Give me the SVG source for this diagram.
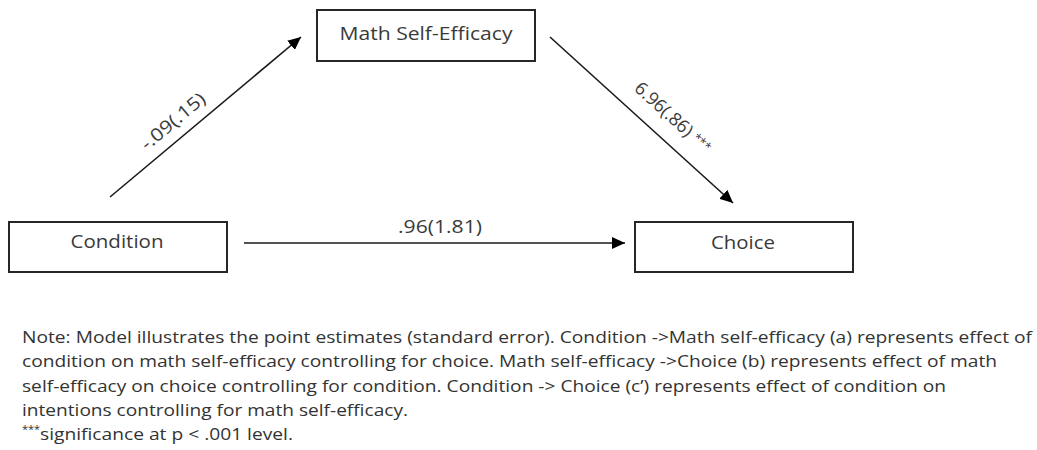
<svg xmlns="http://www.w3.org/2000/svg" width="1037" height="450" viewBox="0 0 1037 450">
<style>
.box{fill:#fff;stroke:#262626;stroke-width:2}
.lbl{font-family:"Open Sans","Noto Sans","Liberation Sans",sans-serif;font-size:18px;fill:#3a3a3a}
.edge{font-family:"Open Sans","Noto Sans","Liberation Sans",sans-serif;font-size:18px;fill:#3a3a3a}
.note{font-family:"Open Sans","Noto Sans","Liberation Sans",sans-serif;font-size:17px;fill:#333}
.conn{stroke:#1a1a1a;stroke-width:1.6;fill:none}
</style>
<defs>
<marker id="arr" markerUnits="userSpaceOnUse" markerWidth="14" markerHeight="12" refX="13" refY="6" orient="auto">
<path d="M0,0 L13,6 L0,12 Z" fill="#000"/>
</marker>
</defs>
<rect width="1037" height="450" fill="#fff"/>
<g id="connectors">
<line class="conn" x1="110" y1="197" x2="301" y2="37" marker-end="url(#arr)"/>
<line class="conn" x1="550" y1="37" x2="733" y2="203" marker-end="url(#arr)"/>
<line class="conn" x1="244" y1="243" x2="625" y2="243" marker-end="url(#arr)"/>
<text class="edge" x="177" y="126" text-anchor="middle" textLength="78" lengthAdjust="spacingAndGlyphs" transform="rotate(-40 177 126)">-.09(.15)</text>
<text class="edge" x="669" y="122" text-anchor="middle" transform="rotate(42 669 122)">6.96(.86) <tspan font-size="12" dy="-3">***</tspan></text>
<text class="edge" x="440" y="233" text-anchor="middle" textLength="84" lengthAdjust="spacingAndGlyphs">.96(1.81)</text>
</g>
<g id="node-mse">
<rect class="box" x="317" y="10" width="218" height="51"/>
<text class="lbl" x="426" y="40" text-anchor="middle" textLength="173" lengthAdjust="spacingAndGlyphs">Math Self-Efficacy</text>
</g>
<g id="node-condition">
<rect class="box" x="9" y="222" width="218" height="50"/>
<text class="lbl" x="117" y="248" text-anchor="middle" textLength="93" lengthAdjust="spacingAndGlyphs">Condition</text>
</g>
<g id="node-choice">
<rect class="box" x="635" y="222" width="218" height="50"/>
<text class="lbl" x="743" y="249" text-anchor="middle" textLength="64" lengthAdjust="spacingAndGlyphs">Choice</text>
</g>
<g id="note">
<text class="note" x="22" y="343" textLength="1010" lengthAdjust="spacingAndGlyphs">Note: Model illustrates the point estimates (standard error). Condition -&gt;Math self-efficacy (a) represents effect of</text>
<text class="note" x="22" y="367" textLength="975" lengthAdjust="spacingAndGlyphs">condition on math self-efficacy controlling for choice. Math self-efficacy -&gt;Choice (b) represents effect of math</text>
<text class="note" x="22" y="392" textLength="924" lengthAdjust="spacingAndGlyphs">self-efficacy on choice controlling for condition. Condition -&gt; Choice (c’) represents effect of condition on</text>
<text class="note" x="22" y="416" textLength="386" lengthAdjust="spacingAndGlyphs">intentions controlling for math self-efficacy.</text>
<text class="note" x="22" y="440"><tspan font-size="11" dy="-7">***</tspan><tspan x="40" dy="7" textLength="253" lengthAdjust="spacingAndGlyphs">significance at p &lt; .001 level.</tspan></text>
</g>
</svg>
